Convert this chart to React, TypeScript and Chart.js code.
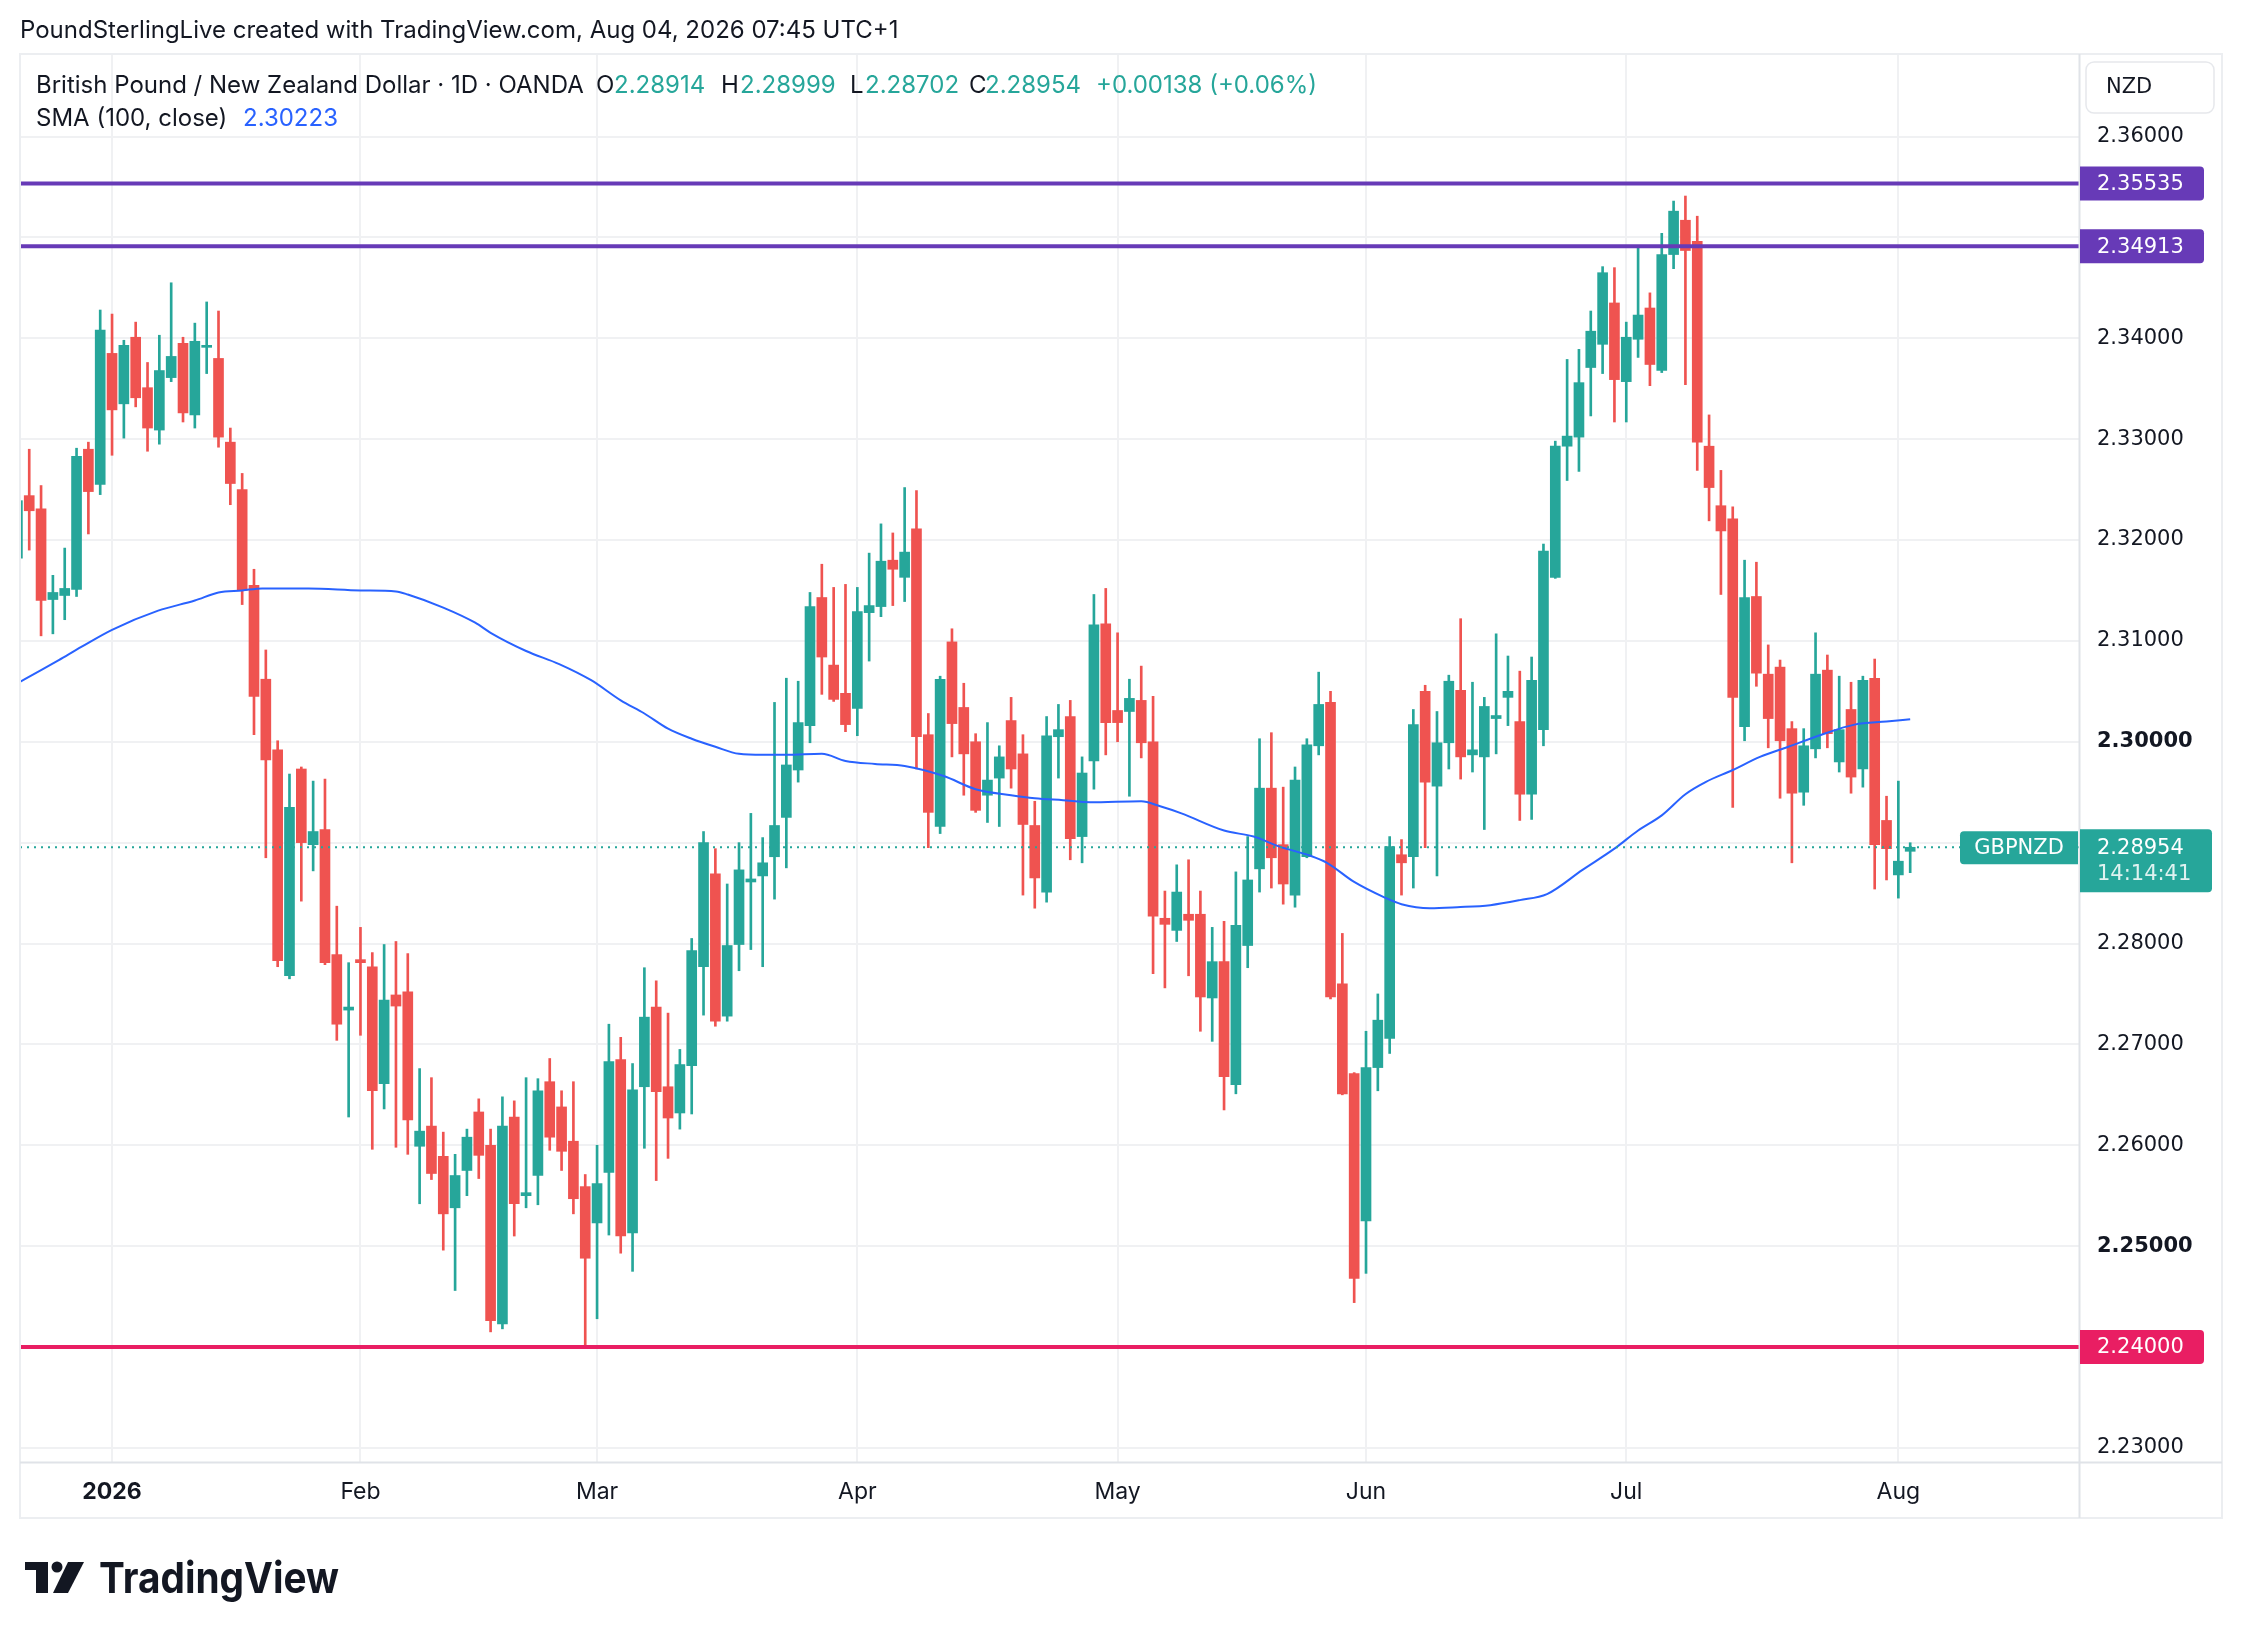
import React, { useEffect, useRef } from "react";
import { Chart, registerables } from "chart.js";

Chart.register(...registerables);

// Daily bars, bar index 0 = Fri 2 Jan 2026 (weekdays only). First value is bar index -8.
const firstBarIndex = -8;

const opens = [
  2.3182, 2.3244, 2.3231, 2.3141, 2.3145, 2.3151, 2.3290, 2.3255,
  2.3385, 2.3335, 2.3401, 2.3351, 2.3309, 2.3361, 2.3395, 2.3324, 2.3391, 2.3380,
  2.3297, 2.3250, 2.3155, 2.3062, 2.2992, 2.2768, 2.2973, 2.2898, 2.2913, 2.2789,
  2.2734, 2.2784, 2.2777, 2.2661, 2.2749, 2.2752, 2.2599, 2.2619, 2.2589, 2.2538,
  2.2575, 2.2633, 2.2600, 2.2423, 2.2628, 2.2550, 2.2570, 2.2663, 2.2638, 2.2604,
  2.2559, 2.2523, 2.2573, 2.2685, 2.2513, 2.2658, 2.2737, 2.2658, 2.2632, 2.2679,
  2.2777, 2.2869, 2.2728, 2.2799, 2.2861, 2.2867, 2.2886, 2.2925, 2.2972, 2.3016,
  2.3143, 2.3076, 2.3048, 2.3033, 2.3128, 2.3134, 2.3180, 2.3163, 2.3211, 2.3007,
  2.2916, 2.3099, 2.3034, 2.3000, 2.2947, 2.2964, 2.3021, 2.2988, 2.2917, 2.2851,
  2.3005, 2.3025, 2.2906, 2.2981, 2.3117, 2.3031, 2.3030, 2.3041, 2.3000, 2.2825,
  2.2813, 2.2829, 2.2829, 2.2746, 2.2782, 2.2660, 2.2798, 2.2874, 2.2954, 2.2898,
  2.2848, 2.2886, 2.2996, 2.3039, 2.2760, 2.2671, 2.2525, 2.2677, 2.2706, 2.2888,
  2.2886, 2.3050, 2.2956, 2.2999, 2.3051, 2.2987, 2.2985, 2.3023, 2.3044, 2.3020,
  2.2948, 2.3012, 2.3163, 2.3293, 2.3302, 2.3371, 2.3394, 2.3435, 2.3357, 2.3399,
  2.3430, 2.3368, 2.3483, 2.3517, 2.3496, 2.3293, 2.3234, 2.3221, 2.3015, 2.3144,
  2.3067, 2.3074, 2.3013, 2.2950, 2.2993, 2.3071, 2.2980, 2.3032, 2.2973, 2.3063,
  2.2922, 2.2868, 2.28914,
];

const highs = [
  2.3245, 2.3290, 2.3254, 2.3165, 2.3192, 2.3291, 2.3297, 2.3428,
  2.3424, 2.3398, 2.3416, 2.3376, 2.3403, 2.3455, 2.3401, 2.3415, 2.3436, 2.3427,
  2.3311, 2.3266, 2.3171, 2.3091, 2.3001, 2.2968, 2.2975, 2.2961, 2.2963, 2.2837,
  2.2781, 2.2816, 2.2791, 2.2799, 2.2802, 2.2790, 2.2676, 2.2667, 2.2613, 2.2591,
  2.2616, 2.2646, 2.2616, 2.2648, 2.2644, 2.2667, 2.2666, 2.2686, 2.2654, 2.2663,
  2.2571, 2.2600, 2.2720, 2.2707, 2.2681, 2.2776, 2.2763, 2.2731, 2.2695, 2.2805,
  2.2911, 2.2894, 2.2859, 2.2900, 2.2929, 2.2905, 2.3039, 2.3063, 2.3060, 2.3148,
  2.3176, 2.3153, 2.3156, 2.3153, 2.3187, 2.3216, 2.3207, 2.3252, 2.3249, 2.3028,
  2.3065, 2.3112, 2.3058, 2.3008, 2.3019, 2.2996, 2.3044, 2.3007, 2.2941, 2.3025,
  2.3037, 2.3041, 2.2985, 2.3146, 2.3152, 2.3108, 2.3062, 2.3075, 2.3045, 2.2852,
  2.2878, 2.2883, 2.2852, 2.2816, 2.2822, 2.2871, 2.2906, 2.3003, 2.3009, 2.2955,
  2.2975, 2.3003, 2.3069, 2.3050, 2.2810, 2.2672, 2.2713, 2.2750, 2.2906, 2.2903,
  2.3032, 2.3056, 2.3030, 2.3066, 2.3122, 2.3059, 2.3044, 2.3107, 2.3085, 2.3070,
  2.3084, 2.3196, 2.3298, 2.3379, 2.3389, 2.3427, 2.3471, 2.3470, 2.3416, 2.3492,
  2.3445, 2.3504, 2.3536, 2.3541, 2.3521, 2.3324, 2.3269, 2.3233, 2.3180, 2.3178,
  2.3096, 2.3081, 2.3020, 2.3013, 2.3108, 2.3086, 2.3065, 2.3059, 2.3065, 2.3082,
  2.2946, 2.2961, 2.28999,
];

const lows = [
  2.3175, 2.3190, 2.3105, 2.3107, 2.3121, 2.3144, 2.3206, 2.3245,
  2.3284, 2.3301, 2.3332, 2.3288, 2.3295, 2.3357, 2.3317, 2.3311, 2.3365, 2.3292,
  2.3235, 2.3136, 2.3007, 2.2885, 2.2777, 2.2765, 2.2842, 2.2872, 2.2779, 2.2704,
  2.2628, 2.2709, 2.2596, 2.2636, 2.2598, 2.2591, 2.2542, 2.2566, 2.2496, 2.2456,
  2.2550, 2.2567, 2.2415, 2.2418, 2.2510, 2.2538, 2.2541, 2.2595, 2.2575, 2.2532,
  2.2400, 2.2428, 2.2511, 2.2493, 2.2475, 2.2597, 2.2565, 2.2587, 2.2616, 2.2631,
  2.2729, 2.2718, 2.2723, 2.2773, 2.2794, 2.2777, 2.2844, 2.2875, 2.2960, 2.2999,
  2.3047, 2.3040, 2.3010, 2.3006, 2.3080, 2.3124, 2.3135, 2.3139, 2.2973, 2.2895,
  2.2909, 2.2985, 2.2947, 2.2930, 2.2920, 2.2916, 2.2954, 2.2848, 2.2835, 2.2841,
  2.2964, 2.2883, 2.2880, 2.2953, 2.2987, 2.3000, 2.2946, 2.2984, 2.2770, 2.2756,
  2.2802, 2.2768, 2.2713, 2.2703, 2.2635, 2.2651, 2.2776, 2.2851, 2.2855, 2.2839,
  2.2836, 2.2885, 2.2987, 2.2745, 2.2650, 2.2444, 2.2473, 2.2654, 2.2691, 2.2848,
  2.2855, 2.2895, 2.2867, 2.2973, 2.2963, 2.2970, 2.2913, 2.2988, 2.3016, 2.2922,
  2.2923, 2.2996, 2.3162, 2.3259, 2.3268, 2.3323, 2.3365, 2.3317, 2.3317, 2.3381,
  2.3353, 2.3366, 2.3469, 2.3354, 2.3269, 2.3219, 2.3146, 2.2935, 2.3001, 2.3055,
  2.2994, 2.2944, 2.2880, 2.2937, 2.2984, 2.2994, 2.2970, 2.2949, 2.2955, 2.2854,
  2.2863, 2.2845, 2.28702,
];

const closes = [
  2.3239, 2.3229, 2.3140, 2.3148, 2.3152, 2.3283, 2.3248, 2.3408,
  2.3329, 2.3393, 2.3341, 2.3311, 2.3368, 2.3382, 2.3326, 2.3397, 2.3393, 2.3302,
  2.3256, 2.3150, 2.3045, 2.2982, 2.2783, 2.2935, 2.2900, 2.2911, 2.2781, 2.2720,
  2.2737, 2.2781, 2.2654, 2.2744, 2.2738, 2.2625, 2.2614, 2.2572, 2.2532, 2.2570,
  2.2608, 2.2590, 2.2426, 2.2619, 2.2542, 2.2553, 2.2654, 2.2608, 2.2594, 2.2547,
  2.2488, 2.2562, 2.2683, 2.2510, 2.2655, 2.2727, 2.2653, 2.2627, 2.2680, 2.2793,
  2.2900, 2.2723, 2.2798, 2.2873, 2.2864, 2.2880, 2.2917, 2.2977, 2.3019, 2.3134,
  2.3084, 2.3042, 2.3017, 2.3129, 2.3135, 2.3179, 2.3171, 2.3188, 2.3005, 2.2930,
  2.3062, 2.3018, 2.2988, 2.2932, 2.2962, 2.2985, 2.2973, 2.2918, 2.2865, 2.3006,
  2.3012, 2.2904, 2.2969, 2.3116, 2.3019, 2.3019, 2.3043, 2.2999, 2.2827, 2.2819,
  2.2851, 2.2823, 2.2747, 2.2782, 2.2668, 2.2818, 2.2863, 2.2954, 2.2885, 2.2859,
  2.2962, 2.2997, 2.3037, 2.2747, 2.2651, 2.2468, 2.2677, 2.2724, 2.2896, 2.2880,
  2.3017, 2.2960, 2.2999, 2.3060, 2.2985, 2.2992, 2.3035, 2.3026, 2.3050, 2.2948,
  2.3061, 2.3189, 2.3293, 2.3303, 2.3356, 2.3407, 2.3465, 2.3359, 2.3401, 2.3423,
  2.3374, 2.3483, 2.3526, 2.3487, 2.3297, 2.3252, 2.3209, 2.3044, 2.3143, 2.3068,
  2.3023, 2.3001, 2.2949, 2.2996, 2.3067, 2.3008, 2.3012, 2.2965, 2.3061, 2.2898,
  2.2894, 2.28816, 2.28954,
];

// SMA(100, close) at these bar indices
const smaX = [
  -8, -6, -4.5, -2.6, 0, 3.9, 7, 9, 11, 12.7, 16.6, 21, 24, 25, 28, 30.7, 32, 35,
  37.8, 40.5, 43, 45, 47, 49, 51, 53, 55, 57, 60, 62, 64.5, 67, 70.3, 73, 76, 78,
  80.4, 82.7, 87, 88.6, 90.4, 94, 96.5, 98.7, 101.3, 102.7, 105, 107.5, 109, 111.4,
  113.7, 116.5, 119, 121.3, 124.3, 127, 129, 131, 133, 134.7, 137, 139.3, 141.7,
  144.5, 147.3, 150, 152,
];
const smaY = [
  2.3058, 2.3071, 2.3081, 2.3094, 2.3111, 2.3130, 2.3140, 2.3148, 2.3150, 2.3152,
  2.3152, 2.3150, 2.3149, 2.3146, 2.3133, 2.3118, 2.3108, 2.3090, 2.3077, 2.3061,
  2.3041, 2.3028, 2.3013, 2.3003, 2.2995, 2.2988, 2.2987, 2.2987, 2.2988, 2.2981,
  2.2978, 2.2976, 2.2966, 2.2953, 2.2947, 2.2944, 2.2942, 2.2940, 2.2941, 2.2936,
  2.2929, 2.2912, 2.2906, 2.2896, 2.2887, 2.2880, 2.2861, 2.2846, 2.2839, 2.2835,
  2.2836, 2.2838, 2.2843, 2.2849, 2.2873, 2.2894, 2.2912, 2.2927, 2.2948, 2.2960,
  2.2972, 2.2985, 2.2995, 2.3007, 2.3017, 2.3020, 2.30223,
];

const monthTickIndex = [0, 21, 41, 63, 85, 106, 128, 151];
const monthTickLabels = ["2026", "Feb", "Mar", "Apr", "May", "Jun", "Jul", "Aug"];
const priceTicks = [
  2.23, 2.24, 2.25, 2.26, 2.27, 2.28, 2.29, 2.3, 2.31, 2.32, 2.33, 2.34, 2.35, 2.36,
];
const boldPriceTicks = [2.25, 2.3];
const resistanceLevels = [2.35535, 2.34913];
const supportLevels = [2.24];
const countdown = "14:14:41";
const symbol = "GBPNZD";
const currency = "NZD";
const headerText = "PoundSterlingLive created with TradingView.com, Aug 04, 2026 07:45 UTC+1";
const instrumentTitle = "British Pound / New Zealand Dollar · 1D · OANDA";
const smaTitle = "SMA (100, close)";

const X_MIN = -7.78;
const X_MAX = 166.27;
const Y_MIN = 2.2286;
const Y_MAX = 2.36818;

const UP = "#26a69a";
const DOWN = "#ef5350";
const PURPLE = "#673ab7";
const PINK = "#e91e63";
const BLUE = "#2962ff";
const TEXT = "#131722";
const GRID = "#f0f1f3";
const UI_FONT = 'Inter, "Noto Sans", sans-serif';
const AXIS_FONT = '"DejaVu Sans", sans-serif';

export default function App() {
  const ref = useRef<HTMLCanvasElement | null>(null);

  useEffect(() => {
    document.body.style.margin = "0";
    const canvas = ref.current;
    if (!canvas) return;

    const n = opens.length;
    const idx = opens.map((_, i) => firstBarIndex + i);
    const colors = opens.map((o, i) => (closes[i] >= o ? UP : DOWN));
    const lastClose = closes[n - 1];
    const prevClose = closes[n - 2];
    const change = lastClose - prevClose;
    const changePct = (change / prevClose) * 100;
    const tagValues = [...resistanceLevels, ...supportLevels, lastClose];

    const hLine = (v: number, color: string, width: number, dash: number[] = []) => ({
      type: "line" as const,
      data: [
        { x: X_MIN, y: v },
        { x: X_MAX, y: v },
      ],
      borderColor: color,
      borderWidth: width,
      borderDash: dash,
      pointRadius: 0,
      order: 1,
    });

    const decor = {
      id: "tvDecor",
      beforeDraw(chart: any) {
        const c = chart.ctx;
        c.save();
        c.fillStyle = "#ffffff";
        c.fillRect(0, 0, chart.width, chart.height);
        c.restore();
      },
      afterDraw(chart: any) {
        const c: CanvasRenderingContext2D = chart.ctx;
        const a = chart.chartArea;
        const ys = chart.scales.y;
        const xs = chart.scales.x;
        const right = ys.right;
        const bottom = xs.bottom;
        c.save();

        // frame
        c.strokeStyle = "#eceef1";
        c.lineWidth = 2;
        c.strokeRect(a.left, a.top, right - a.left, bottom - a.top);
        c.strokeStyle = "#e0e3e8";
        c.beginPath();
        c.moveTo(a.right + 0.5, a.top);
        c.lineTo(a.right + 0.5, bottom);
        c.moveTo(a.left, a.bottom + 0.5);
        c.lineTo(right, a.bottom + 0.5);
        c.stroke();

        // header
        c.fillStyle = TEXT;
        c.textBaseline = "middle";
        c.textAlign = "left";
        c.font = `24px ${UI_FONT}`;
        c.fillText(headerText, 20, 31);

        // legend
        c.font = `24px ${UI_FONT}`;
        const seg = (t: string, x: number, col: string, yy: number) => {
          c.fillStyle = col;
          c.fillText(t, x, yy);
        };
        seg(instrumentTitle, 36, TEXT, 86);
        seg("O", 596, TEXT, 86);
        seg(opens[n - 1].toFixed(5), 614, UP, 86);
        seg("H", 721, TEXT, 86);
        seg(highs[n - 1].toFixed(5), 740, UP, 86);
        seg("L", 850, TEXT, 86);
        seg(lows[n - 1].toFixed(5), 865, UP, 86);
        seg("C", 969, TEXT, 86);
        seg(lastClose.toFixed(5), 985, UP, 86);
        seg(
          `${change >= 0 ? "+" : ""}${change.toFixed(5)} (${change >= 0 ? "+" : ""}${changePct.toFixed(2)}%)`,
          1096,
          UP,
          86
        );
        seg(smaTitle, 36, TEXT, 119);
        seg(smaY[smaY.length - 1].toFixed(5), 243, BLUE, 119);

        // currency box
        c.fillStyle = "#ffffff";
        c.strokeStyle = "#e6e8ec";
        c.lineWidth = 1.5;
        c.beginPath();
        (c as any).roundRect(a.right + 7, 62, 128, 51, 8);
        c.fill();
        c.stroke();
        c.fillStyle = TEXT;
        c.font = `21px ${AXIS_FONT}`;
        c.fillText(currency, a.right + 27, 88);

        // level tags on the price axis
        const tag = (v: number, color: string) => {
          const py = ys.getPixelForValue(v);
          c.fillStyle = color;
          c.beginPath();
          (c as any).roundRect(a.right + 1, py - 17, 124, 34, [0, 4, 4, 0]);
          c.fill();
          c.fillStyle = "#ffffff";
          c.font = `21px ${AXIS_FONT}`;
          c.textAlign = "left";
          c.fillText(v.toFixed(5), a.right + 18, py + 1);
        };
        resistanceLevels.forEach((v) => tag(v, PURPLE));
        supportLevels.forEach((v) => tag(v, PINK));

        // last price tag
        const pl = ys.getPixelForValue(lastClose);
        c.fillStyle = UP;
        c.beginPath();
        (c as any).roundRect(a.right + 1, pl - 18, 132, 63, [0, 4, 4, 0]);
        c.fill();
        c.beginPath();
        (c as any).roundRect(a.right - 119, pl - 16, 118, 33, [4, 0, 0, 4]);
        c.fill();
        c.fillStyle = "#ffffff";
        c.font = `21px ${AXIS_FONT}`;
        c.textAlign = "left";
        c.fillText(lastClose.toFixed(5), a.right + 18, pl + 1);
        c.fillStyle = "rgba(255,255,255,0.85)";
        c.fillText(countdown, a.right + 18, pl + 27);
        c.fillStyle = "#ffffff";
        c.textAlign = "center";
        c.font = `21px ${AXIS_FONT}`;
        c.fillText(symbol, a.right - 60, pl + 1);

        // TradingView logo
        c.fillStyle = TEXT;
        c.fillRect(25, 1562, 23, 8);
        c.fillRect(36, 1562, 12, 31);
        c.beginPath();
        c.arc(57, 1567, 5.5, 0, Math.PI * 2);
        c.fill();
        c.beginPath();
        c.moveTo(68, 1562);
        c.lineTo(84, 1562);
        c.lineTo(68, 1593);
        c.lineTo(53, 1593);
        c.closePath();
        c.fill();
        c.textAlign = "left";
        c.textBaseline = "alphabetic";
        c.font = `bold 43px ${UI_FONT}`;
        c.fillText("TradingView", 99, 1593, 240);

        c.restore();
      },
    };

    const chart = new Chart(canvas, {
      type: "bar",
      data: {
        datasets: [
          ...resistanceLevels.map((v) => hLine(v, PURPLE, 4)),
          ...supportLevels.map((v) => hLine(v, PINK, 4)),
          hLine(lastClose, UP, 2, [2, 5]),
          {
            type: "line",
            data: smaX.map((x, k) => ({ x, y: smaY[k] })),
            borderColor: BLUE,
            borderWidth: 2,
            pointRadius: 0,
            cubicInterpolationMode: "monotone",
            order: 2,
          } as any,
          {
            type: "bar",
            data: idx.map((x, i) => ({ x, y: [lows[i], highs[i]] })),
            backgroundColor: colors,
            barThickness: 2,
            grouped: false,
            order: 11,
          } as any,
          {
            type: "bar",
            data: idx.map((x, i) => ({ x, y: [opens[i], closes[i]] })),
            backgroundColor: colors,
            barThickness: 10,
            minBarLength: 2,
            grouped: false,
            order: 10,
          } as any,
        ],
      },
      options: {
        responsive: false,
        animation: false,
        events: [],
        layout: { padding: { left: 20, right: 20, top: 54, bottom: 120 } },
        plugins: {
          legend: { display: false },
          tooltip: { enabled: false },
          title: { display: false },
        },
        scales: {
          x: {
            type: "linear",
            min: X_MIN,
            max: X_MAX,
            offset: false,
            grid: { color: GRID, lineWidth: 2, drawTicks: false, offset: false },
            border: { display: false },
            afterBuildTicks: (s: any) => {
              s.ticks = monthTickIndex.map((v) => ({ value: v }));
            },
            afterFit: (s: any) => {
              s.height = 56;
            },
            ticks: {
              autoSkip: false,
              maxRotation: 0,
              padding: 16,
              color: TEXT,
              font: (ctx: any) => ({
                family: UI_FONT,
                size: 23,
                weight: ctx.tick && ctx.tick.value === monthTickIndex[0] ? "bold" : "normal",
              }),
              callback: (v: any) => {
                const k = monthTickIndex.indexOf(Number(v));
                return k >= 0 ? monthTickLabels[k] : "";
              },
            },
          },
          y: {
            type: "linear",
            position: "right",
            min: Y_MIN,
            max: Y_MAX,
            grid: { color: GRID, lineWidth: 2, drawTicks: false },
            border: { display: false },
            afterBuildTicks: (s: any) => {
              s.ticks = priceTicks.map((v) => ({ value: v }));
            },
            afterFit: (s: any) => {
              s.width = 143;
            },
            ticks: {
              padding: 18,
              color: TEXT,
              font: (ctx: any) => {
                const v = ctx.tick ? ctx.tick.value : 0;
                const bold = boldPriceTicks.some((b) => Math.abs(b - v) < 1e-7);
                return { family: AXIS_FONT, size: 21, weight: bold ? "bold" : "normal" };
              },
              callback: (v: any) => {
                const val = Number(v);
                // labels hidden behind a price tag are not shown
                if (tagValues.some((t) => Math.abs(t - val) < 0.0015)) return "";
                return val.toFixed(5);
              },
            },
          },
        },
      } as any,
      plugins: [decor],
    } as any);

    return () => chart.destroy();
  }, []);

  return (
    <canvas
      ref={ref}
      width={2242}
      height={1638}
      style={{ display: "block", width: "2242px", height: "1638px" }}
    />
  );
}
